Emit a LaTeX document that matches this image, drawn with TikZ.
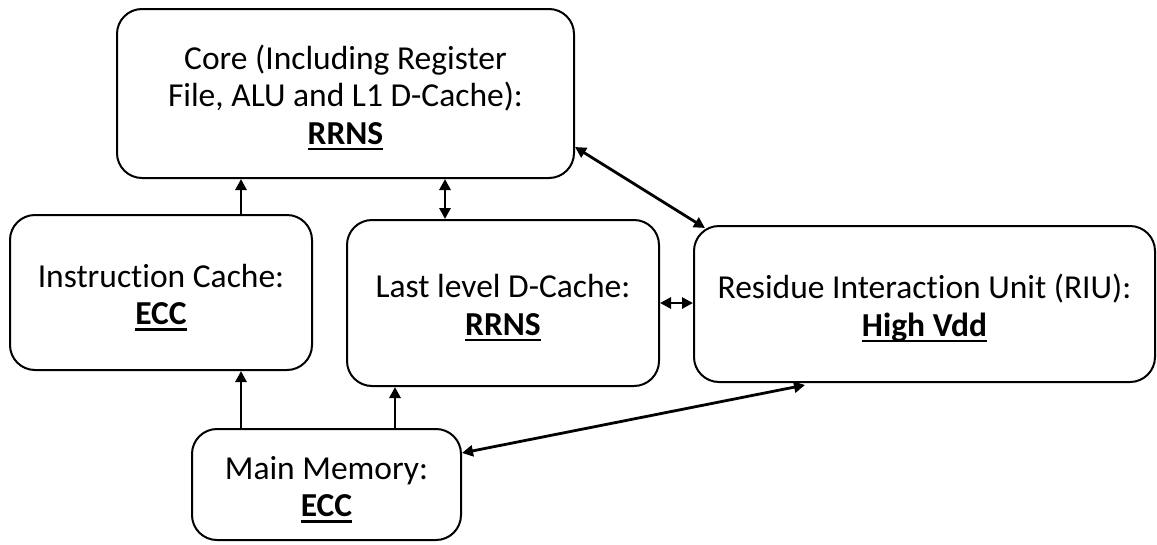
\documentclass[tikz,border=0pt]{standalone}
\usepackage{fontspec}
\setmainfont{Carlito}[Ligatures=NoCommon]
\usetikzlibrary{arrows.meta}
% bold text with a heavy underline
\newcommand{\ulbf}[1]{\setbox0\hbox{\textbf{#1}}\rlap{\rule[-6pt]{\wd0}{2.2pt}}\box0}
% invisible strut that sets the first line a little lower in its box
\newcommand{\topgap}{\rule{0pt}{32.5pt}}
\begin{document}
\begin{tikzpicture}[x=1pt,y=-1pt,
  unit/.style={draw, line width=2pt, rounded corners=25pt, align=center,
    inner sep=0pt, font=\fontsize{33.5}{37.5}\selectfont},
  link/.style={line width=2.8pt, -{Triangle[length=11pt,width=11pt]}},
  link2/.style={line width=2.8pt, {Triangle[length=11pt,width=11pt]}-{Triangle[length=11pt,width=11pt]}}]
\useasboundingbox (0,0) rectangle (1157,544);

% units
\node[unit, minimum width=457pt, minimum height=169pt] (core) at (345.5,93.5)
  {\topgap Core (Including Register\\File, ALU and L1 D-Cache):\\\ulbf{RRNS}};
\node[unit, minimum width=302pt, minimum height=155pt] (ic) at (161,292.5)
  {\topgap Instruction Cache:\\\ulbf{ECC}};
\node[unit, minimum width=312pt, minimum height=166pt] (llc) at (503,303)
  {\topgap Last level D-Cache:\\\ulbf{RRNS}};
\node[unit, minimum width=461pt, minimum height=156pt] (riu) at (924.5,304)
  {\topgap Residue Interaction Unit (RIU):\\\ulbf{High Vdd}};
\node[unit, minimum width=269pt, minimum height=111pt] (mm) at (326.5,484.5)
  {\topgap Main Memory:\\\ulbf{ECC}};

% vertical links
\coordinate (icup) at ([xshift=80pt]ic.north);
\draw[link] (icup) -- (icup |- core.south);
\coordinate (llcup) at ([xshift=-58pt]llc.north);
\draw[link2] (llcup) -- (llcup |- core.south);
\coordinate (mmic) at ([xshift=-85.5pt]mm.north);
\draw[link] (mmic) -- (mmic |- ic.south);
\coordinate (mmllc) at ([xshift=68.5pt]mm.north);
\draw[link] (mmllc) -- (mmllc |- llc.south);

% links to the residue interaction unit
\draw[link2] (llc.east) -- (llc.east -| riu.west);
\draw[link2] ([yshift=-53.5pt]core.east) -- ([shift={(12pt,-3pt)}]riu.north west);
\draw[link2] ([yshift=31.5pt]mm.east) -- ([shift={(-119.5pt,-2pt)}]riu.south);
\end{tikzpicture}
\end{document}
